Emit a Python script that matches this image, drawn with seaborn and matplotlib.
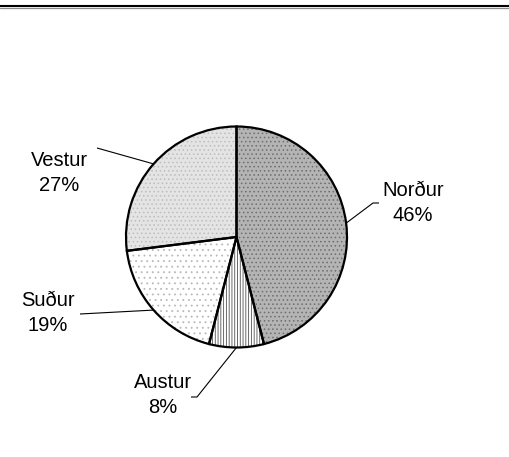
import numpy as np
import matplotlib
matplotlib.use("Agg")
import matplotlib.pyplot as plt
from matplotlib.lines import Line2D
import seaborn as sns

# ----------------------------------------------------------
# data
# ----------------------------------------------------------
regions = ["Norður", "Austur", "Suður", "Vestur"]
shares  = [46, 8, 19, 27]

# styling per wedge (face, hatch, hatch colour)
faces   = ["#b4b4b4", "#ffffff", "#ffffff", "#e4e4e4"]
hatches = ["....", "||||||", "...", "...."]
hcolors = ["#6e6e6e", "#505050", "#b8b8b8", "#bdbdbd"]

# label layout in pixels (text centre, leader elbow, leader end)
label_xy  = [(413, 203), (163, 395), (48, 313), (59, 173)]
elbow_xy  = [(373, 203), (197, 397), None, None]
end_xy    = [(379, 203), (191, 397), (80, 314), (97, 148)]

W, H = 510, 457
CX, CY, R = 236.5, 237, 110.5

sns.set_theme(style="white")
plt.rcParams["font.family"] = ["Liberation Sans", "DejaVu Sans"]
plt.rcParams["hatch.linewidth"] = 0.6

fig = plt.figure(figsize=(W / 100, H / 100), dpi=100)
ax = fig.add_axes([0, 0, 1, 1])
ax.set_xlim(0, W)
ax.set_ylim(0, H)
ax.set_aspect("equal")
ax.axis("off")


def py(y):
    # pixel row -> data y
    return H - y


# fill pass (hatch colour follows edge colour)
wedges, _ = ax.pie(shares, center=(CX, py(CY)), radius=R, startangle=90,
                   counterclock=False, frame=True)
for w, fc, hc, ht in zip(wedges, faces, hcolors, hatches):
    w.set_facecolor(fc)
    w.set_edgecolor(hc)
    w.set_hatch(ht)
    w.set_linewidth(0)

# outline pass
ax.pie(shares, center=(CX, py(CY)), radius=R, startangle=90,
       counterclock=False, frame=True,
       wedgeprops=dict(fill=False, edgecolor="black", linewidth=1.6))
ax.set_xlim(0, W)
ax.set_ylim(0, H)
ax.axis("off")

# labels + leader lines
for w, name, val, txy, exy, nxy in zip(wedges, regions, shares,
                                       label_xy, elbow_xy, end_xy):
    mid = np.deg2rad((w.theta1 + w.theta2) / 2)
    sx = CX + R * np.cos(mid)
    sy = py(CY) + R * np.sin(mid)
    xs, ys = [sx], [sy]
    if exy is not None:
        xs.append(exy[0]); ys.append(py(exy[1]))
    xs.append(nxy[0]); ys.append(py(nxy[1]))
    ax.plot(xs, ys, color="black", lw=0.8, solid_capstyle="butt")
    ax.text(txy[0], py(txy[1]), f"{name}\n{val}%", ha="center", va="center",
            fontsize=14.5, linespacing=1.45, color="black")

# double rule at the top
fig.add_artist(Line2D([0, 1], [1 - 5.5 / H, 1 - 5.5 / H], color="black", lw=1.5))
fig.add_artist(Line2D([0, 1], [1 - 7.8 / H, 1 - 7.8 / H], color="#8c8c8c", lw=0.9))

fig.savefig("out.png", dpi=100)
